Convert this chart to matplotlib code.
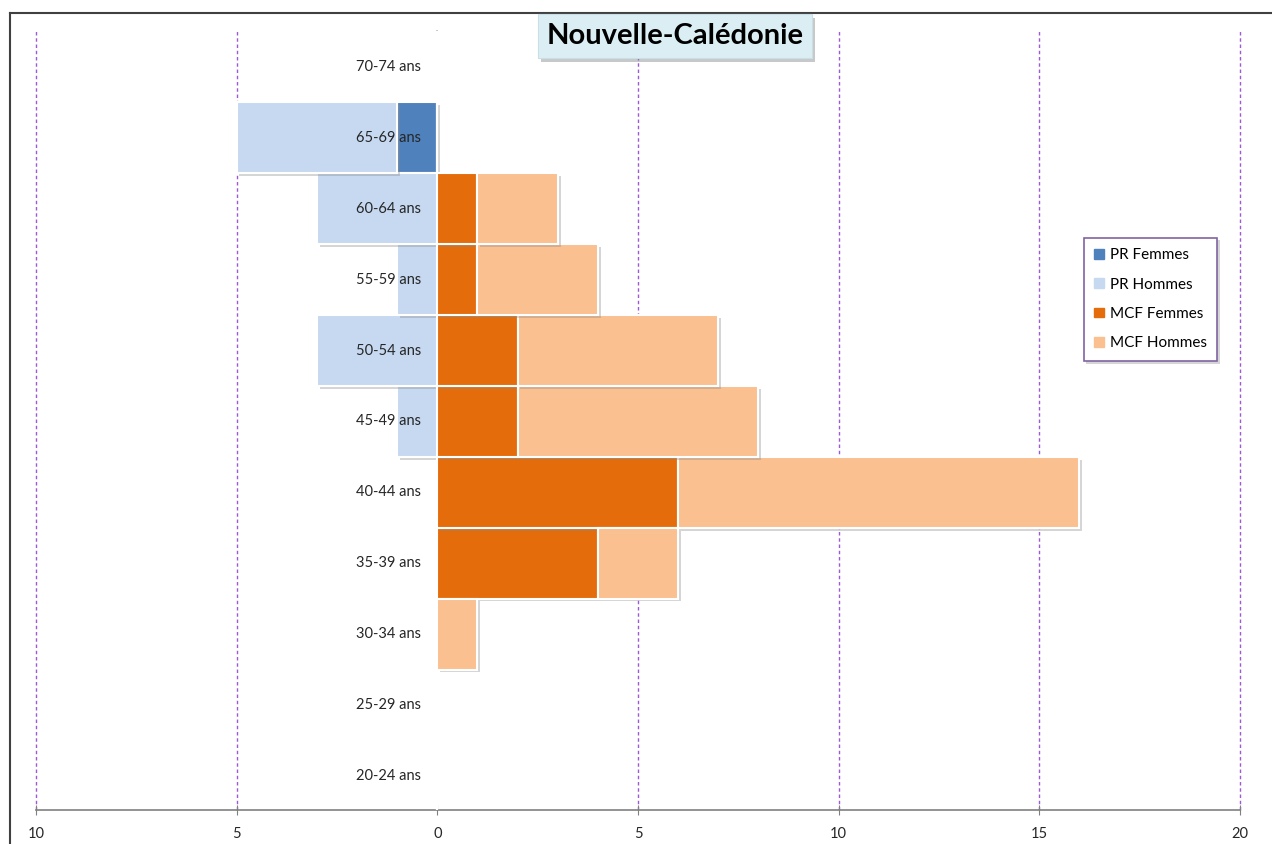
import numpy as np
import matplotlib.pyplot as plt
import matplotlib.patheffects as pe
from matplotlib.lines import Line2D
from matplotlib.patches import Patch

# tranches d'age, du bas vers le haut
ages = ['20-24 ans', '25-29 ans', '30-34 ans', '35-39 ans', '40-44 ans', '45-49 ans',
        '50-54 ans', '55-59 ans', '60-64 ans', '65-69 ans', '70-74 ans']
pr_femmes = [0, 0, 0, 0, 0, 0, 0, 0, 0, 1, 0]
pr_hommes = [0, 0, 0, 0, 0, 1, 3, 1, 3, 4, 0]
mcf_femmes = [0, 0, 0, 4, 6, 2, 2, 1, 1, 0, 0]
mcf_hommes = [0, 0, 1, 2, 10, 6, 5, 3, 2, 0, 0]
x_ticks = [-10, -5, 0, 5, 10, 15, 20]

plt.rcParams['font.family'] = ['Lato', 'DejaVu Sans']

fig = plt.figure(figsize=(12.72, 8.44), dpi=100)
ax = fig.add_axes([36 / 1272, 1 - 810 / 844, 1204 / 1272, 780 / 844])

y = np.arange(len(ages))
pr_f = -np.array(pr_femmes)
pr_h = -np.array(pr_hommes)
mcf_f = np.array(mcf_femmes)
mcf_h = np.array(mcf_hommes)

shadow = [pe.SimplePatchShadow(offset=(2, -2), shadow_rgbFace='#888888', alpha=0.35), pe.Normal()]
kw = dict(height=1.0, edgecolor='white', linewidth=1.5, zorder=3)

b1 = ax.barh(y, pr_f, color='#4f81bd', label='PR Femmes', **kw)
b2 = ax.barh(y, pr_h, left=pr_f, color='#c6d9f1', label='PR Hommes', **kw)
b3 = ax.barh(y, mcf_f, color='#e46c0a', label='MCF Femmes', **kw)
b4 = ax.barh(y, mcf_h, left=mcf_f, color='#fac090', label='MCF Hommes', **kw)
for bars in (b1, b2, b3, b4):
    for r in bars:
        if r.get_width() != 0:
            r.set_path_effects(shadow)

# grille verticale
for g in x_ticks:
    if g != 0:
        ax.axvline(g, color='#9d5ad6', linestyle=(0, (2.5, 2)), linewidth=1.0, zorder=1, clip_on=False)
ax.axvline(0, color='#bfbfbf', linewidth=1.2, zorder=2)

# etiquettes des tranches d'age
for yi, lab in zip(y, ages):
    ax.text(-0.4, yi, lab, ha='right', va='center', fontsize=10.5, color='#262626', zorder=5)

ax.set_xlim(-10, 20)
ax.set_ylim(-0.48, 10.52)
ax.set_xticks(x_ticks)
ax.set_xticklabels([str(abs(t)) for t in x_ticks], fontsize=10.5, color='#262626')
ax.set_yticks([])
for s in ['top', 'left', 'right']:
    ax.spines[s].set_visible(False)
ax.spines['bottom'].set_color('#808080')
ax.spines['bottom'].set_linewidth(1.2)
ax.tick_params(axis='x', direction='inout', length=7, color='#808080', pad=9)

# titre
title = fig.text(675 / 1272, 1 - 36 / 844, 'Nouvelle-Calédonie', ha='center', va='center',
                 fontsize=21, fontweight='bold', color='black', zorder=6,
                 bbox=dict(boxstyle='square,pad=0.3', facecolor='#dbeef4', edgecolor='#c8dfe8', linewidth=0.8))
title.get_bbox_patch().set_path_effects(
    [pe.SimplePatchShadow(offset=(2, -3), shadow_rgbFace='#777777', alpha=0.4), pe.Normal()])

# legende
handles = [Patch(color='#4f81bd'), Patch(color='#c6d9f1'), Patch(color='#e46c0a'), Patch(color='#fac090')]
leg = fig.legend(handles, ['PR Femmes', 'PR Hommes', 'MCF Femmes', 'MCF Hommes'],
                 loc='upper left', bbox_to_anchor=(1076 / 1272, 1 - 230 / 844),
                 fontsize=11, frameon=True, fancybox=False, framealpha=1.0, handlelength=0.6,
                 handleheight=0.6, handletextpad=0.4, labelspacing=1.0, borderpad=0.7, shadow=False)
leg.get_frame().set_edgecolor('#8064a2')
leg.get_frame().set_facecolor('white')
leg.get_frame().set_linewidth(1.2)
leg.get_frame().set_path_effects(
    [pe.SimplePatchShadow(offset=(2, -2), shadow_rgbFace='#888888', alpha=0.35), pe.Normal()])

# cadre du graphique
fig.add_artist(Line2D([10 / 1272, 1.0], [1 - 13 / 844] * 2, color='#404040', linewidth=1.5))
fig.add_artist(Line2D([10 / 1272] * 2, [0, 1 - 13 / 844], color='#404040', linewidth=1.5))

fig.savefig('out.png', dpi=100)
